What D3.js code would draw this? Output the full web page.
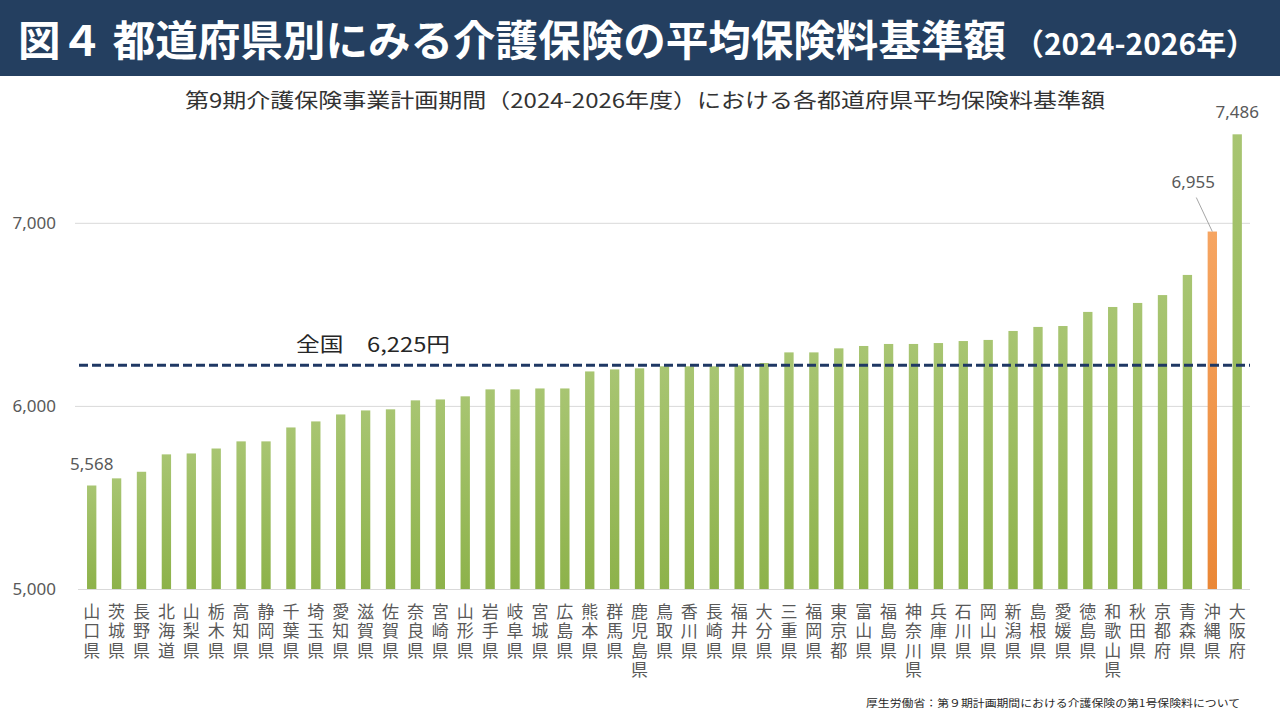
<!DOCTYPE html>
<html lang="ja">
<head>
<meta charset="utf-8">
<script src="https://cdn.jsdelivr.net/npm/d3@7"></script>
<style>
  html, body { margin: 0; padding: 0; background: #ffffff; }
  svg { display: block; font-family: "Noto Sans CJK JP", "Noto Sans", sans-serif; }
  .vlabel { writing-mode: vertical-rl; text-orientation: upright; }
</style>
</head>
<body>
<svg id="chart" width="1280" height="720"></svg>
<script>
// ---- data ----
const titleMain = "図４ 都道府県別にみる介護保険の平均保険料基準額";
const titleSub = "（2024-2026年）";
const subtitle = "第9期介護保険事業計画期間（2024-2026年度）における各都道府県平均保険料基準額";
const sourceNote = "厚生労働省：第９期計画期間における介護保険の第1号保険料について";
const prefectures = ["山口県","茨城県","長野県","北海道","山梨県","栃木県","高知県","静岡県","千葉県","埼玉県",
  "愛知県","滋賀県","佐賀県","奈良県","宮崎県","山形県","岩手県","岐阜県","宮城県","広島県",
  "熊本県","群馬県","鹿児島県","鳥取県","香川県","長崎県","福井県","大分県","三重県","福岡県",
  "東京都","富山県","福島県","神奈川県","兵庫県","石川県","岡山県","新潟県","島根県","愛媛県",
  "徳島県","和歌山県","秋田県","京都府","青森県","沖縄県","大阪府"];
const premiums = [5568,5607,5643,5738,5743,5770,5809,5809,5885,5918,
  5956,5978,5984,6033,6038,6055,6093,6093,6098,6098,
  6191,6202,6208,6219,6219,6219,6224,6237,6295,6295,
  6317,6330,6341,6341,6346,6357,6363,6412,6434,6439,
  6516,6543,6565,6608,6718,6955,7486];
const highlighted = ["沖縄県"];
const labelled = ["山口県","沖縄県","大阪府"];
const nationalAverage = 6225;
const nationalLabel = "全国　6,225円";
const yTicks = [5000, 6000, 7000];
const yDomain = [5000, 7500];

// ---- layout ----
const svg = d3.select("#chart");
const defs = svg.append("defs");
const gGreen = defs.append("linearGradient").attr("id","gGreen").attr("x1",0).attr("y1",0).attr("x2",0).attr("y2",1);
gGreen.append("stop").attr("offset","0%").attr("stop-color","#a8c572");
gGreen.append("stop").attr("offset","100%").attr("stop-color","#8db24a");
const gOrange = defs.append("linearGradient").attr("id","gOrange").attr("x1",0).attr("y1",0).attr("x2",0).attr("y2",1);
gOrange.append("stop").attr("offset","0%").attr("stop-color","#f6a562");
gOrange.append("stop").attr("offset","100%").attr("stop-color","#ea8736");

// title bar
svg.append("rect").attr("x",0).attr("y",0).attr("width",1280).attr("height",76).attr("fill","#243f60");
svg.append("text").attr("x",18).attr("y",56).attr("fill","#ffffff")
  .attr("font-size",42).attr("font-weight",700).attr("textLength",988).attr("lengthAdjust","spacingAndGlyphs")
  .text(titleMain);
svg.append("text").attr("x",1014).attr("y",55).attr("fill","#ffffff")
  .attr("font-size",30).attr("font-weight",700).attr("textLength",242).attr("lengthAdjust","spacingAndGlyphs")
  .text(titleSub);

// subtitle
svg.append("text").attr("x",185).attr("y",108).attr("fill","#333333")
  .attr("font-size",20).attr("textLength",920).attr("lengthAdjust","spacingAndGlyphs")
  .text(subtitle);

const x = d3.scaleBand().domain(prefectures).range([79.3, 1249.6]).paddingInner(0.625).paddingOuter(0.31);
const y = d3.scaleLinear().domain(yDomain).range([589.5, 131.75]);

// gridlines
svg.append("g").selectAll("line").data(yTicks.filter(t => t !== yDomain[0])).join("line")
  .attr("x1",75).attr("x2",1250)
  .attr("y1",d => y(d)).attr("y2",d => y(d))
  .attr("stroke","#d9d9d9").attr("stroke-width",1);

// y axis labels via d3 axis
const yAxis = d3.axisLeft(y).tickValues(yTicks).tickFormat(d3.format(",")).tickSize(0).tickPadding(0);
const yg = svg.append("g").attr("transform","translate(56,0)").call(yAxis);
yg.select(".domain").remove();
yg.selectAll("text").attr("font-size",17).attr("fill","#595959")
  .attr("font-family","'Noto Sans', 'Noto Sans CJK JP', sans-serif");

// bars
const data = prefectures.map((p,i) => ({name:p, value:premiums[i]}));
svg.append("g").selectAll("rect").data(data).join("rect")
  .attr("x",d => x(d.name)).attr("width",x.bandwidth())
  .attr("y",d => y(d.value)).attr("height",d => y(yDomain[0]) - y(d.value))
  .attr("fill",d => highlighted.includes(d.name) ? "url(#gOrange)" : "url(#gGreen)");

// baseline
svg.append("line").attr("x1",78).attr("x2",1250).attr("y1",y(yDomain[0])).attr("y2",y(yDomain[0]))
  .attr("stroke","#d9d9d9").attr("stroke-width",1);

// national average dashed line
svg.append("line").attr("x1",79).attr("x2",1250)
  .attr("y1",y(nationalAverage)).attr("y2",y(nationalAverage))
  .attr("stroke","#1f3864").attr("stroke-width",3).attr("stroke-dasharray","9,4");
svg.append("text").attr("x",296).attr("y",y(nationalAverage) - 13).attr("fill","#262626")
  .attr("font-size",20).attr("textLength",154).attr("lengthAdjust","spacingAndGlyphs")
  .text(nationalLabel);

// data labels
const fmt = d3.format(",");
const labelData = data.filter(d => labelled.includes(d.name));
labelData.forEach(d => {
  const cx = x(d.name) + x.bandwidth()/2;
  let lx = cx, ly = y(d.value) - 15;
  if (highlighted.includes(d.name)) {
    lx = cx - 19; ly = y(d.value) - 44;
    svg.append("line").attr("x1",cx - 16).attr("y1",y(d.value) - 34).attr("x2",cx).attr("y2",y(d.value))
      .attr("stroke","#a6a6a6").attr("stroke-width",1);
  } else if (d.name === prefectures[prefectures.length-1]) {
    ly = y(d.value) - 16;
  }
  svg.append("text").attr("x",lx).attr("y",ly).attr("text-anchor","middle")
    .attr("font-size",17).attr("fill","#595959")
    .attr("font-family","'Noto Sans', 'Noto Sans CJK JP', sans-serif")
    .text(fmt(d.value));
});

// x labels (vertical writing, one text per prefecture)
svg.append("g").selectAll("text").data(data).join("text")
  .attr("class","vlabel")
  .attr("x",d => x(d.name) + x.bandwidth()/2)
  .attr("y",603)
  .attr("font-size",17).attr("fill","#595959")
  .attr("letter-spacing","2.5px")
  .text(d => d.name);

// source note
svg.append("text").attr("x",866).attr("y",707).attr("fill","#262626")
  .attr("font-size",10).attr("textLength",374).attr("lengthAdjust","spacingAndGlyphs")
  .text(sourceNote);
</script>
</body>
</html>
